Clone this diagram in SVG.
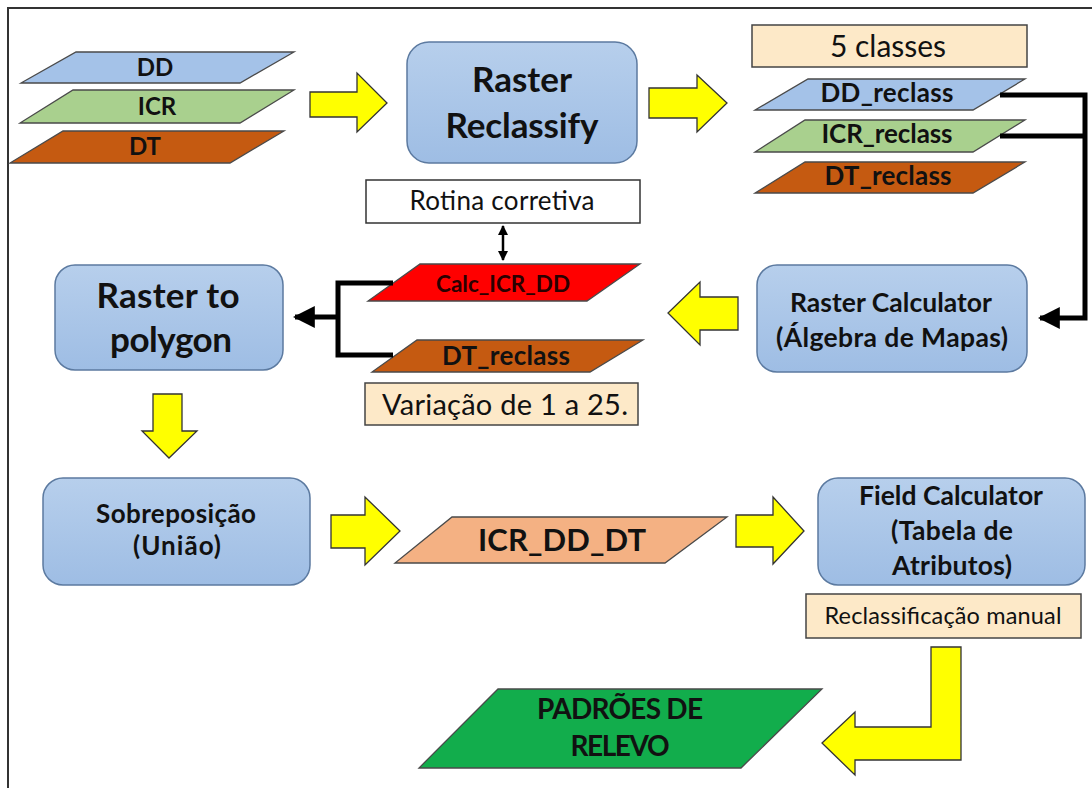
<svg xmlns="http://www.w3.org/2000/svg" width="1092" height="788" viewBox="0 0 1092 788">
  <defs>
    <linearGradient id="boxGrad" x1="0" y1="0" x2="0" y2="1">
      <stop offset="0" stop-color="#b7cfec"/>
      <stop offset="1" stop-color="#9ebde4"/>
    </linearGradient>
    <marker id="blackHead" viewBox="0 0 10 10" refX="9" refY="5" markerWidth="4.4" markerHeight="4.4" orient="auto" markerUnits="strokeWidth">
      <path d="M0,0 L10,5 L0,10 Z" fill="#000"/>
    </marker>
    <marker id="smallHeadEnd" viewBox="0 0 10 10" refX="9" refY="5" markerWidth="4" markerHeight="4" orient="auto" markerUnits="strokeWidth">
      <path d="M0,0 L10,5 L0,10 Z" fill="#000"/>
    </marker>
    <marker id="smallHeadStart" viewBox="0 0 10 10" refX="1" refY="5" markerWidth="4" markerHeight="4" orient="auto" markerUnits="strokeWidth">
      <path d="M10,0 L0,5 L10,10 Z" fill="#000"/>
    </marker>
  </defs>
  <style>
    text { font-family: Lato, "Open Sans", "Liberation Sans", sans-serif; fill: #111; text-anchor: middle; }
    .b { font-weight: bold; }
    .proc { fill: url(#boxGrad); stroke: #5c7aa0; stroke-width: 1.5; }
    .note { fill: #fde9c8; stroke: #444; stroke-width: 1.5; }
    .plain { fill: #ffffff; stroke: #333; stroke-width: 1.5; }
    .layer { stroke: #4a4a4a; stroke-width: 1.3; }
    .blue { fill: #a4c2e8; }
    .green { fill: #a9d08e; }
    .brown { fill: #c55a11; }
    .red { fill: #ff0000; }
    .salmon { fill: #f4b183; }
    .dgreen { fill: #12ad4c; }
    .yarrow { fill: #ffff00; stroke: #333; stroke-width: 1.3; stroke-linejoin: miter; }
    .wire { fill: none; stroke: #000; stroke-width: 5; stroke-linejoin: miter; }
    .thin { fill: none; stroke: #000; stroke-width: 2.5; }
  </style>

  <rect width="1092" height="788" fill="#ffffff"/>
  <!-- frame -->
  <path d="M8,788 L8,8 L1092,8" fill="none" stroke="#333" stroke-width="2"/>

  <!-- input layers -->
  <g id="layer-dd">
    <polygon class="layer blue" points="76,52 294,52 240,83 21,83"/>
    <text class="b" x="155" y="76" font-size="24">DD</text>
  </g>
  <g id="layer-icr">
    <polygon class="layer green" points="73,90 294,90 240,123 20,123"/>
    <text class="b" x="157" y="115" font-size="24">ICR</text>
  </g>
  <g id="layer-dt">
    <polygon class="layer brown" points="63,131 284,131 230,163 10,163"/>
    <text class="b" x="145" y="155" font-size="24">DT</text>
  </g>

  <g id="raster-reclassify">
    <rect class="proc" x="407" y="42" width="230" height="121" rx="22"/>
    <text class="b" x="522" y="92" font-size="35" textLength="100" lengthAdjust="spacing">Raster</text>
    <text class="b" x="522" y="138" font-size="35" textLength="153" lengthAdjust="spacing">Reclassify</text>
  </g>

  <g id="note-5classes">
    <rect class="note" x="752" y="25" width="275" height="42"/>
    <text x="888" y="57" font-size="30" textLength="116" lengthAdjust="spacing">5 classes</text>
  </g>

  <g id="layer-dd-reclass">
    <polygon class="layer blue" points="808,79 1025,79 973,110 755,110"/>
    <text class="b" x="887" y="102" font-size="26" textLength="133" lengthAdjust="spacing">DD_reclass</text>
  </g>
  <g id="layer-icr-reclass">
    <polygon class="layer green" points="805,120 1025,120 973,152 755,152"/>
    <text class="b" x="887" y="143" font-size="26" textLength="131" lengthAdjust="spacing">ICR_reclass</text>
  </g>
  <g id="layer-dt-reclass">
    <polygon class="layer brown" points="805,162 1025,162 973,193 755,193"/>
    <text class="b" x="888" y="185" font-size="26" textLength="127" lengthAdjust="spacing">DT_reclass</text>
  </g>

  <g id="rotina-corretiva">
    <rect class="plain" x="366" y="180" width="274" height="43"/>
    <text x="502" y="210" font-size="26" textLength="185" lengthAdjust="spacing">Rotina corretiva</text>
  </g>

  <g id="layer-calc">
    <polygon class="layer red" points="420,264 640,264 587,301 368,301"/>
    <text class="b" x="503" y="292" font-size="22.5" textLength="134" lengthAdjust="spacing" style="fill:#2a0000">Calc_ICR_DD</text>
  </g>

  <g id="layer-dt-reclass-2">
    <polygon class="layer brown" points="417,340 643,340 590,372 372,372"/>
    <text class="b" x="506" y="365" font-size="26" textLength="128" lengthAdjust="spacing">DT_reclass</text>
  </g>

  <g id="note-variacao">
    <rect class="note" x="365" y="383" width="273" height="42"/>
    <text x="505" y="415" font-size="29" textLength="246" lengthAdjust="spacing">Variação de 1 a 25.</text>
  </g>

  <g id="raster-to-polygon">
    <rect class="proc" x="55" y="265" width="228" height="105" rx="20"/>
    <text class="b" x="168" y="308" font-size="35" textLength="143" lengthAdjust="spacing">Raster to</text>
    <text class="b" x="171" y="352" font-size="35" textLength="122" lengthAdjust="spacing">polygon</text>
  </g>

  <g id="raster-calculator">
    <rect class="proc" x="757" y="265" width="270" height="107" rx="20"/>
    <text class="b" x="891" y="312" font-size="26.5" textLength="202" lengthAdjust="spacing">Raster Calculator</text>
    <text class="b" x="892" y="347" font-size="26.5" textLength="232" lengthAdjust="spacing">(Álgebra de Mapas)</text>
  </g>

  <g id="sobreposicao">
    <rect class="proc" x="43" y="478" width="267" height="107" rx="20"/>
    <text class="b" x="176" y="523" font-size="26" textLength="160" lengthAdjust="spacing">Sobreposição</text>
    <text class="b" x="177" y="555" font-size="26" textLength="88" lengthAdjust="spacing">(União)</text>
  </g>

  <g id="layer-icr-dd-dt">
    <polygon class="layer salmon" points="452,517 727,517 665,563 395,563"/>
    <text class="b" x="562" y="551" font-size="31" textLength="168" lengthAdjust="spacing">ICR_DD_DT</text>
  </g>

  <g id="field-calculator">
    <rect class="proc" x="818" y="478" width="267" height="107" rx="20"/>
    <text class="b" x="951" y="505" font-size="26.5" textLength="184" lengthAdjust="spacing">Field Calculator</text>
    <text class="b" x="952" y="540" font-size="26.5" textLength="122" lengthAdjust="spacing">(Tabela de</text>
    <text class="b" x="952" y="575" font-size="26.5" textLength="120" lengthAdjust="spacing">Atributos)</text>
  </g>

  <g id="note-reclassificacao">
    <rect class="note" x="806" y="594" width="275" height="44"/>
    <text x="943" y="624" font-size="23.5" textLength="237" lengthAdjust="spacing">Reclassificação manual</text>
  </g>

  <g id="padroes-de-relevo">
    <polygon class="layer dgreen" points="498,689 822,689 741,768 419,768"/>
    <text class="b" x="620" y="719" font-size="28" textLength="166" lengthAdjust="spacing">PADRÕES DE</text>
    <text class="b" x="620" y="756" font-size="28" textLength="99" lengthAdjust="spacing">RELEVO</text>
  </g>

  <!-- flow arrows and connector lines -->
  <g id="connectors">
    <polygon class="yarrow" points="310,92 357,92 357,73 387,103 357,132 357,117 310,117"/>
    <polygon class="yarrow" points="649,88 697,88 697,75 727,103 697,132 697,118 649,118"/>
    <polygon class="yarrow" points="738,297 700,297 700,282 668,313 700,345 700,330 738,330"/>
    <polygon class="yarrow" points="153,394 182,394 182,431 197,431 169,458 142,431 153,431"/>
    <polygon class="yarrow" points="331,515 365,515 365,497 400,531 365,565 365,548 331,548"/>
    <polygon class="yarrow" points="736,515 773,515 773,497 804,531 773,564 773,547 736,547"/>
    <polygon class="yarrow" points="931,647 961,647 961,760 855,760 855,775 822,743 855,712 855,727 931,727"/>

    <path class="wire" d="M1000,95 L1085,95 L1085,318 L1040,318" marker-end="url(#blackHead)"/>
    <path class="wire" d="M1000,136 L1085,136"/>
    <path class="wire" d="M393,283 L338,283 L338,355 L393,355"/>
    <path class="wire" d="M338,317 L295,317" marker-end="url(#blackHead)"/>
    <path class="thin" d="M503,226 L503,260" marker-start="url(#smallHeadStart)" marker-end="url(#smallHeadEnd)"/>
  </g>
</svg>
